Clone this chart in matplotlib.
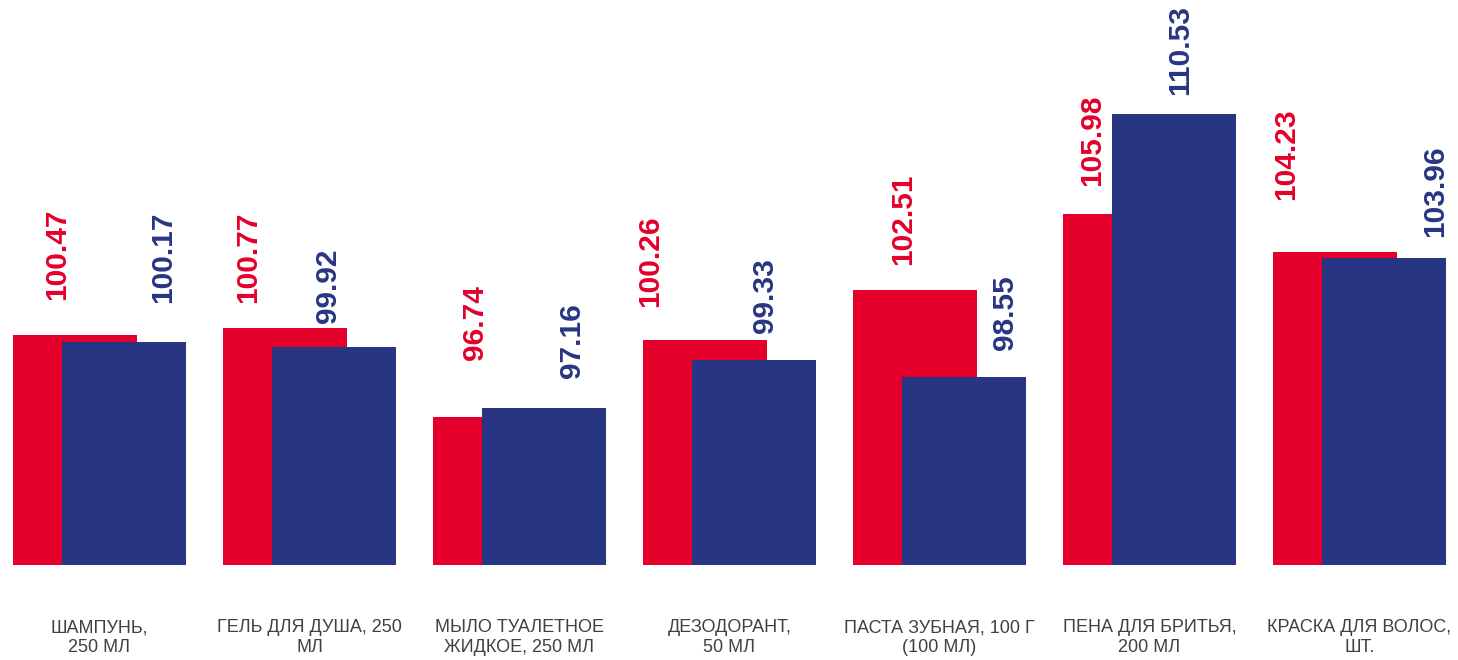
import matplotlib
matplotlib.use("Agg")
import matplotlib.pyplot as plt
from matplotlib import font_manager
import numpy as np

categories = ["ШАМПУНЬ,\n250 МЛ", "ГЕЛЬ ДЛЯ ДУША, 250\nМЛ", "МЫЛО ТУАЛЕТНОЕ\nЖИДКОЕ, 250 МЛ",
              "ДЕЗОДОРАНТ,\n50 МЛ", "ПАСТА ЗУБНАЯ, 100 Г\n(100 МЛ)", "ПЕНА ДЛЯ БРИТЬЯ,\n200 МЛ",
              "КРАСКА ДЛЯ ВОЛОС,\nШТ."]
red_values = [100.47, 100.77, 96.74, 100.26, 102.51, 105.98, 104.23]
blue_values = [100.17, 99.92, 97.16, 99.33, 98.55, 110.53, 103.96]

# label nudges (pixels) relative to bar centre / bar top
red_dx = [-18, -37, -20, -55, -12, -33, -49]
red_dy = [35, 25, 57, 33, 25, 28, 52]
blue_dx = [39, -6, 28, 11, 41, 6, 51]
blue_dy = [39, 24, 30, 27, 27, 19, 21]

RED = "#E4002B"
BLUE = "#283583"

names = {f.name for f in font_manager.fontManager.ttflist}
narrow = "Liberation Sans Narrow" if "Liberation Sans Narrow" in names else "Liberation Sans"

fig = plt.figure(figsize=(14.58, 6.6), dpi=100)
ax = fig.add_axes([0, 95/660, 1, 565/660])

x = np.arange(len(categories))
w = 0.59
off = 0.117
ax.bar(x - off, [v - 90 for v in red_values], width=w, bottom=90, color=RED, linewidth=0)
ax.bar(x + off, [v - 90 for v in blue_values], width=w, bottom=90, color=BLUE, linewidth=0)

px2pt = 72 / 100
for i in range(len(categories)):
    ax.annotate(f"{red_values[i]:.2f}", xy=(x[i] - off, red_values[i]),
                xytext=(red_dx[i] * px2pt, red_dy[i] * px2pt), textcoords="offset points",
                rotation=90, ha="center", va="bottom", color=RED, fontsize=21.5,
                fontweight="bold", family="Liberation Sans")
    ax.annotate(f"{blue_values[i]:.2f}", xy=(x[i] + off, blue_values[i]),
                xytext=(blue_dx[i] * px2pt, blue_dy[i] * px2pt), textcoords="offset points",
                rotation=90, ha="center", va="bottom", color=BLUE, fontsize=21.5,
                fontweight="bold", family="Liberation Sans")

ax.set_xlim(-99.5 / 210, (1458 - 99.5) / 210)
ax.set_ylim(90, 90 + 565 / 21.97)
ax.set_xticks(x)
ax.set_xticklabels(categories, fontsize=13, color="#404040", family=narrow, linespacing=1.2)
ax.tick_params(axis="x", length=0, pad=39)
ax.set_yticks([])
for s in ax.spines.values():
    s.set_visible(False)
ax.patch.set_alpha(0)

fig.savefig("out.png", dpi=100)
